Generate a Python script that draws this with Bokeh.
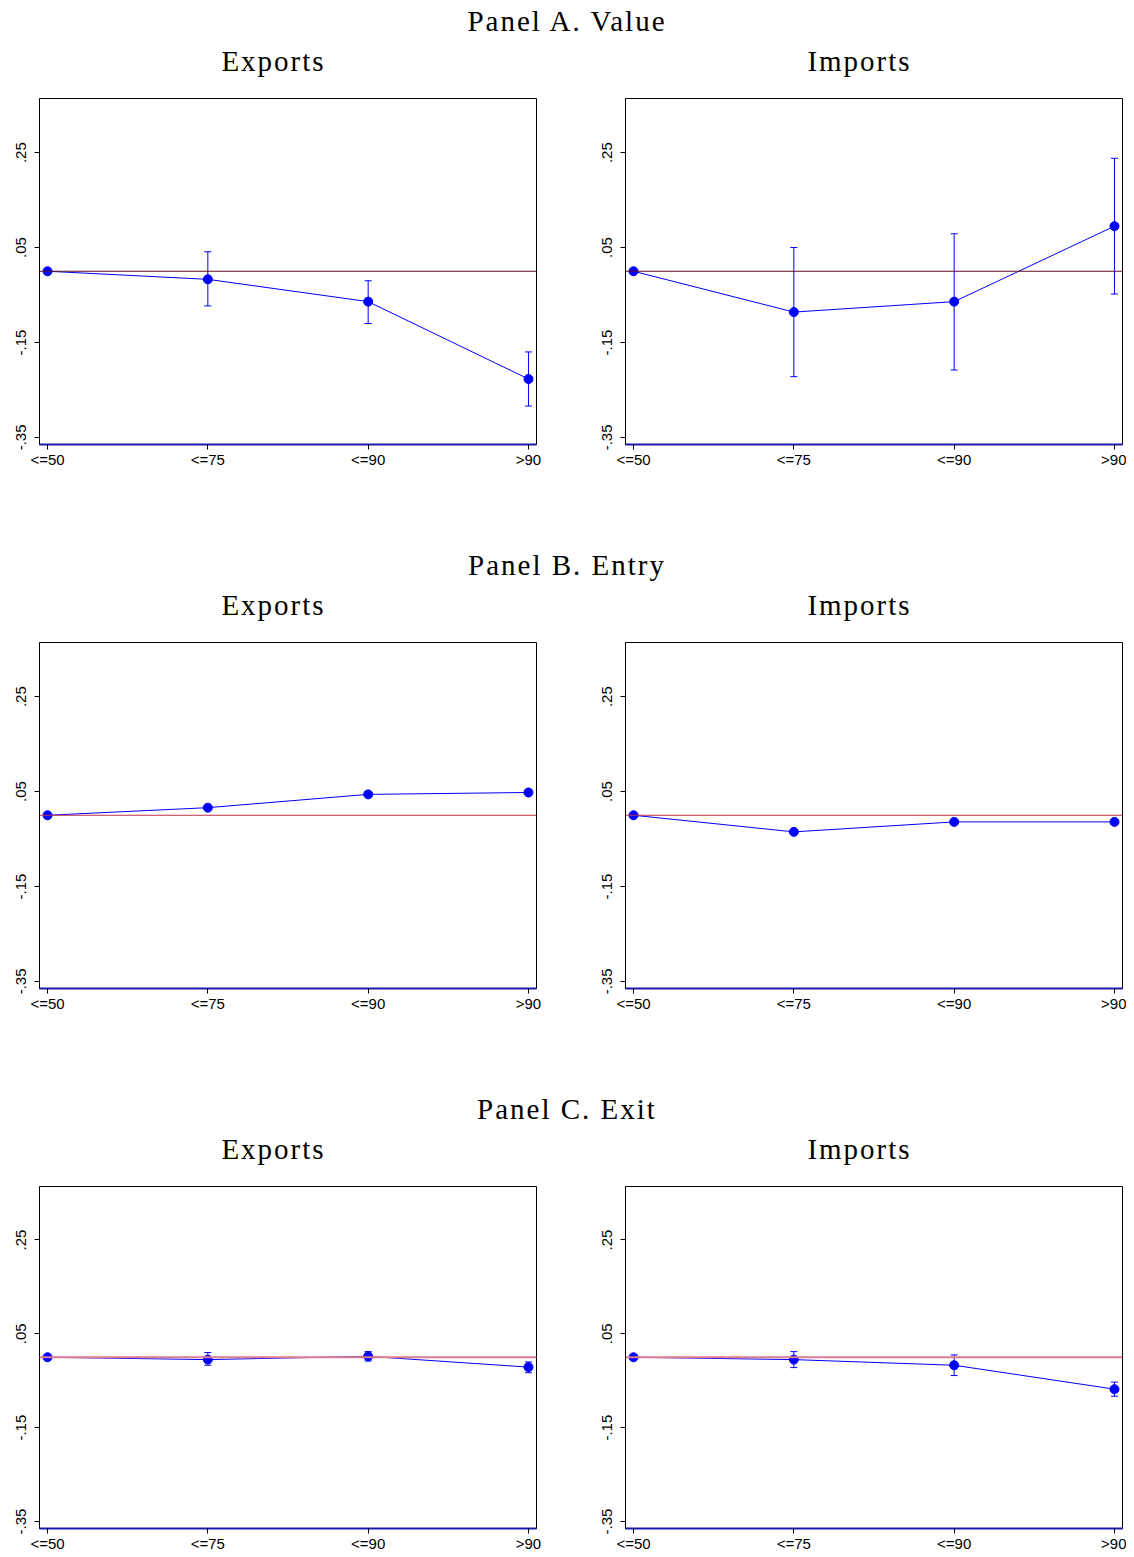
from bokeh.plotting import figure
from bokeh.models import (Range1d, FixedTicker, Span, Whisker, TeeHead, ColumnDataSource, Div)
from bokeh.layouts import column, row
from bokeh.embed import file_html
from bokeh.resources import INLINE

# ---------------- data ----------------
categories = ["<=50", "<=75", "<=90", ">90"]
y_ticks = [-0.35, -0.15, 0.05, 0.25]
y_tick_labels = ["-.35", "-.15", ".05", ".25"]

panel_titles = ["Panel A. Value", "Panel B. Entry", "Panel C. Exit"]
sub_titles = ["Exports", "Imports"]

# Panel A: Value
value_exp = [0.0, -0.017, -0.064, -0.227]
value_exp_lo = [0.0, -0.073, -0.110, -0.284]
value_exp_hi = [0.0, 0.041, -0.020, -0.170]
value_imp = [0.0, -0.086, -0.064, 0.095]
value_imp_lo = [0.0, -0.222, -0.208, -0.048]
value_imp_hi = [0.0, 0.050, 0.079, 0.238]

# Panel B: Entry
entry_exp = [0.0, 0.016, 0.044, 0.048]
entry_exp_lo = [0.0, 0.014, 0.042, 0.044]
entry_exp_hi = [0.0, 0.018, 0.046, 0.052]
entry_imp = [0.0, -0.035, -0.014, -0.014]
entry_imp_lo = [0.0, -0.037, -0.016, -0.016]
entry_imp_hi = [0.0, -0.033, -0.012, -0.012]

# Panel C: Exit
exit_exp = [0.0, -0.005, 0.002, -0.021]
exit_exp_lo = [0.0, -0.017, -0.008, -0.033]
exit_exp_hi = [0.0, 0.010, 0.012, -0.010]
exit_imp = [0.0, -0.005, -0.017, -0.068]
exit_imp_lo = [0.0, -0.022, -0.039, -0.083]
exit_imp_hi = [0.0, 0.012, 0.005, -0.053]

panels = [
    [(value_exp, value_exp_lo, value_exp_hi), (value_imp, value_imp_lo, value_imp_hi)],
    [(entry_exp, entry_exp_lo, entry_exp_hi), (entry_imp, entry_imp_lo, entry_imp_hi)],
    [(exit_exp, exit_exp_lo, exit_exp_hi), (exit_imp, exit_imp_lo, exit_imp_hi)],
]
zero_line_styles = [("#5A1020", 1), ("#C0304A", 1), ("#E07A92", 2)]

SERIF = "Liberation Serif"
SANS = "Liberation Sans"
BLUE = "#0000FF"


def make_fig(vals, lo, hi, is_left, zero_style, bottom_border):
    idx = list(range(len(categories)))
    bl = 39 if is_left else 31
    br = 58 if is_left else 4
    bt = 8
    w = bl + 497 + br
    h = bt + 346 + bottom_border
    p = figure(width=w, height=h, output_backend="svg", toolbar_location=None,
               x_range=Range1d(-0.05, 3.05), y_range=Range1d(-0.365, 0.364),
               min_border_left=bl, min_border_right=br,
               min_border_top=bt, min_border_bottom=bottom_border,
               background_fill_color="white", border_fill_color="white")
    p.xgrid.visible = False
    p.ygrid.visible = False
    p.outline_line_color = "black"
    p.outline_line_width = 1

    # x axis
    xa = p.xaxis[0]
    xa.ticker = FixedTicker(ticks=idx)
    xa.major_label_overrides = {i: c for i, c in zip(idx, categories)}
    xa.major_label_text_font = SANS
    xa.major_label_text_font_size = "15px"
    xa.major_label_text_color = "black"
    xa.axis_line_color = "#1A1AB0"
    xa.axis_line_width = 2
    xa.major_tick_out = 5
    xa.major_tick_in = 0
    xa.major_tick_line_color = "black"
    xa.minor_tick_line_color = None
    xa.major_label_standoff = 1

    # y axis
    ya = p.yaxis[0]
    ya.ticker = FixedTicker(ticks=y_ticks)
    ya.major_label_overrides = {t: l for t, l in zip(y_ticks, y_tick_labels)}
    ya.major_label_orientation = "vertical"
    ya.major_label_text_font = SANS
    ya.major_label_text_font_size = "15px"
    ya.major_label_text_color = "black"
    ya.axis_line_color = "black"
    ya.major_tick_out = 5
    ya.major_tick_in = 0
    ya.minor_tick_line_color = None
    ya.major_label_standoff = 8

    p.add_layout(Span(location=0, dimension="width", line_color=zero_style[0],
                      line_width=zero_style[1]))

    src = ColumnDataSource(dict(x=idx, y=vals, lo=lo, hi=hi))
    p.add_layout(Whisker(base="x", upper="hi", lower="lo", source=src,
                         line_color=BLUE, line_width=1,
                         upper_head=TeeHead(size=7, line_color=BLUE, line_width=1),
                         lower_head=TeeHead(size=7, line_color=BLUE, line_width=1)))
    p.line("x", "y", source=src, line_color=BLUE, line_width=1)
    p.scatter("x", "y", source=src, size=9, fill_color=BLUE, line_color=BLUE)
    return p


def header_html(ptitle):
    base = "position:absolute;text-align:center;white-space:nowrap;color:black;"
    return (
        f'<div style="position:relative;width:1126px;height:90px;font-family:\'{SERIF}\';">'
        f'<div style="{base}left:0px;width:1134px;top:7px;font-size:29px;line-height:29px;letter-spacing:2px;">{ptitle}</div>'
        f'<div style="{base}left:0px;width:547px;top:47px;font-size:29px;line-height:29px;letter-spacing:2px;">{sub_titles[0]}</div>'
        f'<div style="{base}left:586px;width:547px;top:47px;font-size:29px;line-height:29px;letter-spacing:2px;">{sub_titles[1]}</div>'
        f'</div>'
    )


items = []
for r, (ptitle, pair) in enumerate(zip(panel_titles, panels)):
    div = Div(text=header_html(ptitle), width=1126, height=90, margin=(0, 0, 0, 0))
    bottom = 100 if r < 2 else 22
    figs = []
    for c, data in enumerate(pair):
        figs.append(make_fig(data[0], data[1], data[2], c == 0, zero_line_styles[r], bottom))
    items.append(div)
    items.append(row(*figs, spacing=0))

layout = column(*items, spacing=0)
open("out.html", "w").write(file_html(layout, INLINE))
